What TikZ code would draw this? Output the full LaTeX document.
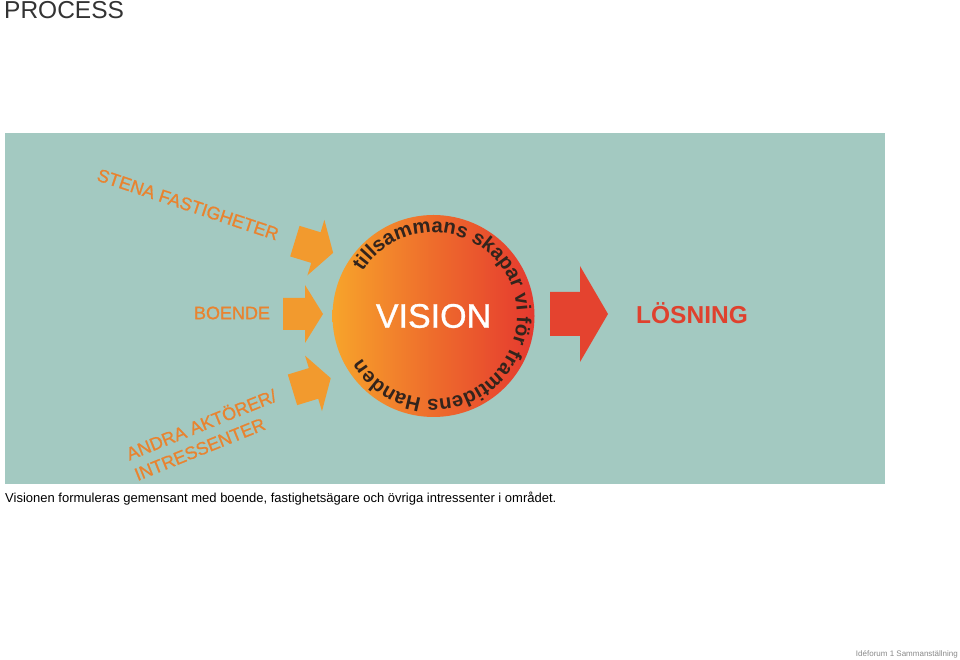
\documentclass[tikz,border=0pt]{standalone}
\usepackage{fontspec}
\setmainfont{Liberation Sans}
\newfontfamily\medfont[FakeBold=0.9]{Liberation Sans}
\usetikzlibrary{decorations.text}
\definecolor{panel}{HTML}{A3C9C1}
\definecolor{arrowor}{HTML}{F29A2E}
\definecolor{textor}{HTML}{E9832F}
\definecolor{redarrow}{HTML}{E4432F}
\definecolor{redtext}{HTML}{DF412E}
\definecolor{circl}{HTML}{F7A42B}
\definecolor{circm}{HTML}{EE6C2C}
\definecolor{circr}{HTML}{E5392F}
\definecolor{ringtext}{HTML}{33241C}
\definecolor{titlegray}{HTML}{333333}
\definecolor{footgray}{HTML}{8A8A8A}
\newcommand\ringfont{\fontsize{20.3}{24}\selectfont\bfseries}
\tikzset{
  inarrow/.pic={\fill[arrowor] (-20,-16) -- (2,-16) -- (2,-29) -- (20,0) -- (2,29) -- (2,16) -- (-20,16) -- cycle;},
  orlabel/.style={text=textor, inner sep=0pt, font=\medfont\fontsize{18}{22}\selectfont},
}
\begin{document}
\begin{tikzpicture}[x=1pt,y=1pt]
\useasboundingbox (0,0) rectangle (960,660);
\fill[white] (0,0) rectangle (960,660);
% panel
\fill[panel] (5,176) rectangle (885,527);
% title
\node[anchor=base west, inner sep=0pt, text=titlegray, font=\fontsize{24.5}{28}\selectfont] (title) at (4,641) {PROCESS};
% incoming arrows
\pic[rotate=-17] at (314,413) {inarrow};
\pic at (303,346) {inarrow};
\pic[rotate=17] at (311.6,276) {inarrow};
% labels
\node[orlabel, rotate=-18.5] (stena) at (188,455.5) {STENA FASTIGHETER};
\node[orlabel] (boende) at (232,347) {BOENDE};
\node[orlabel, rotate=22, align=left] (andra) at (205,226) {ANDRA AKTÖRER/\\INTRESSENTER};
% vision circle
\node[circle, minimum size=202pt, inner sep=0pt, left color=circl, right color=circr, middle color=circm, text=white, font=\medfont\fontsize{34}{40}\selectfont] (vision) at (433.5,344) {VISION};
\path[decorate, decoration={text along path, text align=left, text color=ringtext,
  text={|\ringfont|tillsammans skapar vi för framtidens Handen}}]
  (vision.center) ++(148:83.5) arc[start angle=148, end angle=-175, radius=83.5];
% outgoing arrow
\fill[redarrow] (550,324) -- (580,324) -- (580,298) -- (608,346) -- (580,394) -- (580,368) -- (550,368) -- cycle;
\node[text=redtext, inner sep=0pt, font=\fontsize{24.5}{28}\selectfont\bfseries] (losning) at (692,347) {LÖSNING};
% caption
\node[anchor=base west, inner sep=0pt, text=black, font=\fontsize{13}{16}\selectfont] (caption) at (5,157) {Visionen formuleras gemensant med boende, fastighetsägare och övriga intressenter i området.};
\node[anchor=base east, inner sep=0pt, text=footgray, font=\fontsize{8}{10}\selectfont] (footer) at (958,3) {Idéforum 1 Sammanställning};
\end{tikzpicture}
\end{document}
